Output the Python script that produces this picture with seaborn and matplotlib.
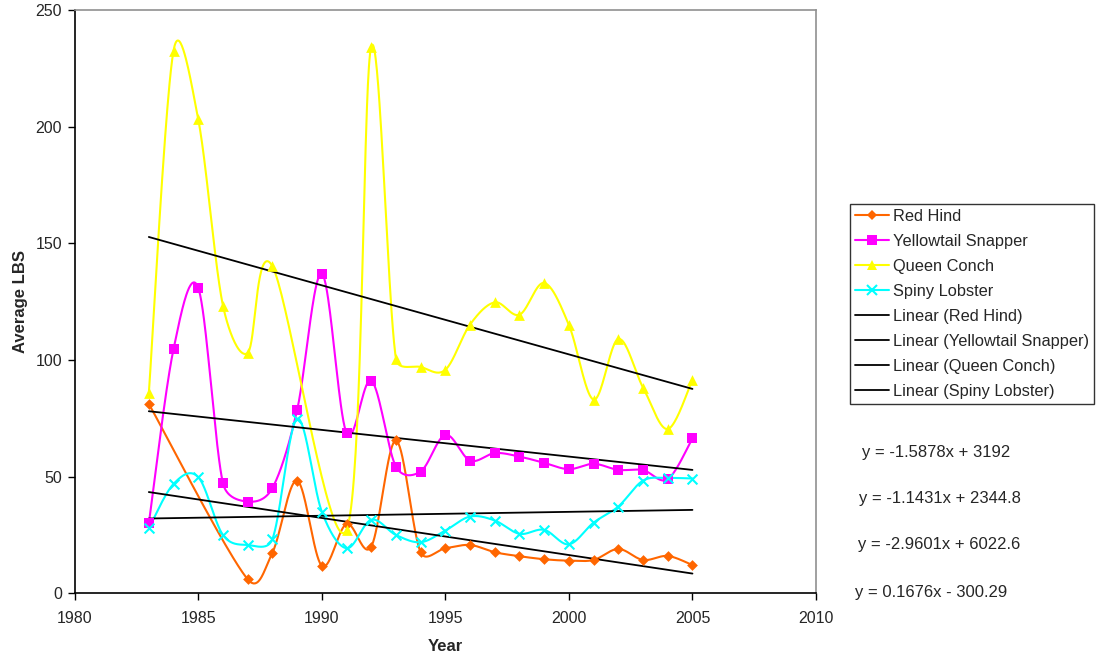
import numpy as np
import pandas as pd
import matplotlib
matplotlib.use("Agg")
import matplotlib.pyplot as plt
import seaborn as sns
from matplotlib.lines import Line2D

nan = np.nan
years = list(range(1983, 2006))
red_hind = [81.2, nan, nan, nan, 6.0, 17.4, 48.3, 11.8, 29.7, 20.0, 65.5, 17.6,
            19.3, 20.7, 17.6, 15.9, 14.6, 14.0, 14.3, 19.0, 14.3, 16.0, 12.1]
yellowtail = [30.0, 104.7, 130.9, 47.2, 39.3, 45.1, 78.5, 137.0, 68.7, 91.2, 54.3, 52.2,
              67.9, 56.9, 60.1, 58.6, 55.9, 53.2, 55.5, 52.9, 52.8, 48.9, 66.4]
queen_conch = [85.8, 232.6, 203.1, 123.3, 103.0, 140.2, nan, nan, 27.2, 234.3, 100.6, 97.0,
               95.8, 115.2, 124.7, 119.4, 133.0, 115.0, 83.0, 109.0, 88.2, 70.4, 91.5]
spiny_lobster = [27.9, 46.9, 49.8, 25.0, 20.7, 23.2, 74.8, 35.0, 19.3, 31.5, 25.0, 21.9,
                 26.9, 32.9, 31.2, 25.5, 27.2, 21.0, 30.3, 37.2, 48.3, 49.4, 49.2]

series_names = ["Red Hind", "Yellowtail Snapper", "Queen Conch", "Spiny Lobster"]
series_values = [red_hind, yellowtail, queen_conch, spiny_lobster]
trend_slopes = [-1.5878, -1.1431, -2.9601, 0.1676]
trend_intercepts = [3192, 2344.8, 6022.6, -300.29]
equation_labels = ["y = -1.5878x + 3192", "y = -1.1431x + 2344.8",
                   "y = -2.9601x + 6022.6", "y = 0.1676x - 300.29"]
x_ticks = [1980, 1985, 1990, 1995, 2000, 2005, 2010]
y_ticks = [0, 50, 100, 150, 200, 250]
x_range = (1980, 2010)
y_range = (0, 250)

colors = ["#FF6600", "#FF00FF", "#FFFF00", "#00FFFF"]
markers = ["D", "s", "^", "x"]
msizes = [30, 42, 60, 50]
legend_ms = [5.5, 6.5, 7.5, 7]

W, H = 1097, 659
L, R, T, B = 74.7, 816, 10, 593.3
SX = (R - L) / (x_range[1] - x_range[0])
SY = (B - T) / (y_range[1] - y_range[0])


def smooth(xs, ys, n=40):
    """Excel-style smoothed line: Bezier segments with limited tangents (in pixel space)."""
    x = np.asarray(xs, float)
    y = np.asarray(ys, float)
    m = ~np.isnan(y)
    P = np.column_stack([x[m] * SX, y[m] * SY])
    Pe = np.vstack([P[0], P, P[-1]])
    out = []
    t = np.linspace(0, 1, n)[:, None]
    for i in range(len(P) - 1):
        p0, p1, p2, p3 = Pe[i], Pe[i + 1], Pe[i + 2], Pe[i + 3]
        d12 = np.linalg.norm(p2 - p1)
        d02 = np.linalg.norm(p2 - p0)
        d13 = np.linalg.norm(p3 - p1)
        f1 = min(1 / 6, 0.5 * d12 / d02) if d02 > 0 else 0
        f2 = min(1 / 6, 0.5 * d12 / d13) if d13 > 0 else 0
        c1 = p1 + (p2 - p0) * f1
        c2 = p2 - (p3 - p1) * f2
        seg = (1 - t) ** 3 * p1 + 3 * (1 - t) ** 2 * t * c1 + 3 * (1 - t) * t ** 2 * c2 + t ** 3 * p2
        out.append(seg if i == 0 else seg[1:])
    c = np.vstack(out)
    return c[:, 0] / SX, c[:, 1] / SY


sns.set_theme(style="white")
plt.rcParams['font.family'] = ['Liberation Sans', 'DejaVu Sans']

fig = plt.figure(figsize=(W / 100, H / 100), dpi=100)
ax = fig.add_axes([L / W, 1 - B / H, (R - L) / W, (B - T) / H])

for name, vals, c, mk, ms in zip(series_names, series_values, colors, markers, msizes):
    cx, cy = smooth(years, vals)
    sns.lineplot(x=cx, y=cy, sort=False, estimator=None,
                 color=c, lw=1.5, ax=ax, legend=False)
    df = pd.DataFrame({"year": years, "v": vals}).dropna()
    if mk == "x":
        sns.scatterplot(data=df, x="year", y="v", marker=mk, s=ms, color=c,
                        linewidth=1.5, ax=ax, legend=False, zorder=3)
    else:
        sns.scatterplot(data=df, x="year", y="v", marker=mk, s=ms, color=c,
                        linewidth=0, ax=ax, legend=False, zorder=3)

for vals, a, b in zip(series_values, trend_slopes, trend_intercepts):
    df = pd.DataFrame({"year": years, "v": vals}).dropna()
    xs = np.array([df["year"].min(), df["year"].max()], float)
    sns.lineplot(x=xs, y=a * xs + b, color="black", lw=1.3, ax=ax, legend=False)

ax.set_xlim(*x_range)
ax.set_ylim(*y_range)
ax.set_xticks(x_ticks)
ax.set_yticks(y_ticks)
ax.tick_params(axis="both", direction="out", length=5, width=1, color="black",
               labelsize=11.5, bottom=True, left=True)
ax.tick_params(axis="x", pad=8)
ax.tick_params(axis="y", pad=4)
for s in ["left", "bottom"]:
    ax.spines[s].set_color("black")
    ax.spines[s].set_linewidth(1.2)
for s in ["top", "right"]:
    ax.spines[s].set_color("#909090")
    ax.spines[s].set_linewidth(1.2)

ax.set_xlabel("Year", fontsize=12, fontweight="bold")
ax.set_ylabel("Average LBS", fontsize=12, fontweight="bold")
ax.yaxis.set_label_coords(-0.063, 0.5)
ax.xaxis.set_label_coords(0.5, -0.079)

handles = []
for name, c, mk, lms in zip(series_names, colors, markers, legend_ms):
    handles.append(Line2D([0], [0], color=c, lw=1.5, marker=mk, markersize=lms,
                          markeredgewidth=1.5 if mk == "x" else 0,
                          markerfacecolor=c, markeredgecolor=c))
for name in series_names:
    handles.append(Line2D([0], [0], color="black", lw=1.3))
labels = series_names + ["Linear (%s)" % n for n in series_names]
leg = fig.legend(handles, labels, loc="upper left",
                 bbox_to_anchor=(850 / W, 1 - 204 / H), fontsize=11.8,
                 frameon=True, fancybox=False, edgecolor="black",
                 handlelength=2.1, handletextpad=0.2, labelspacing=0.61,
                 borderpad=0.3, borderaxespad=0)
leg.get_frame().set_linewidth(1.0)

eq_pos = [(861.5, 452), (859.3, 498), (857.7, 544), (855, 593)]
for (px, py), txt in zip(eq_pos, equation_labels):
    fig.text(px / W, 1 - py / H, txt, fontsize=12, ha="left", va="center")

fig.savefig("out.png", dpi=100)
